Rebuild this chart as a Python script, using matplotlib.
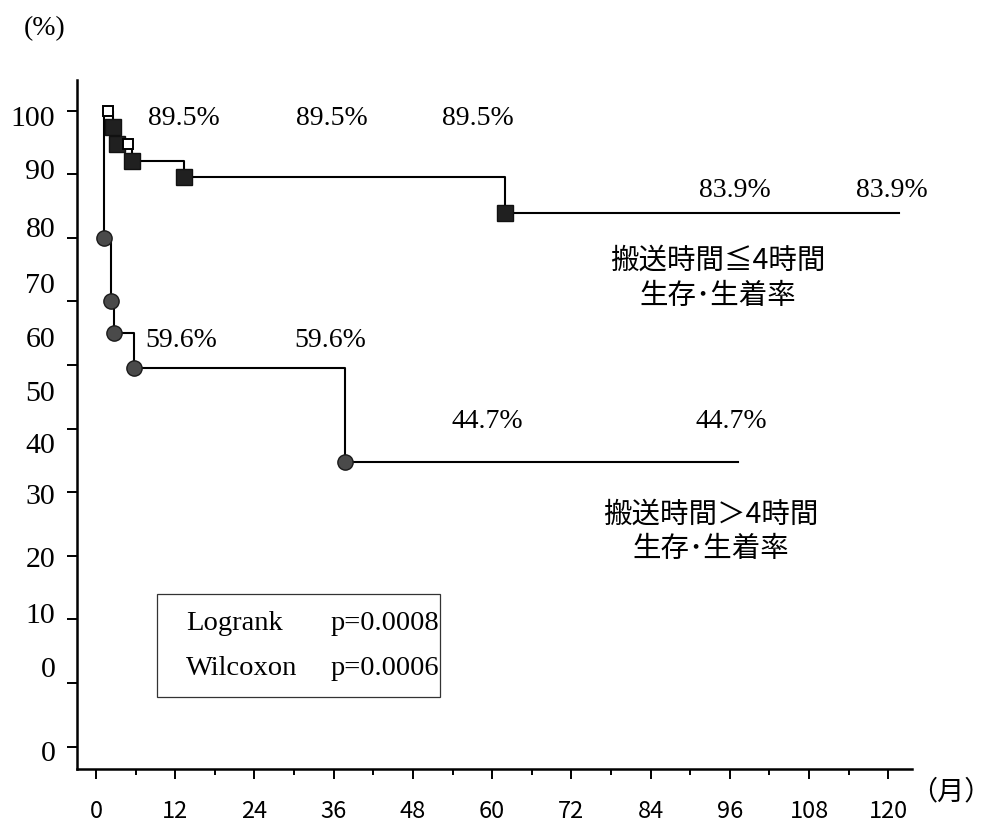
import numpy as np
import matplotlib
matplotlib.use("Agg")
import matplotlib.pyplot as plt
from matplotlib.patches import Rectangle

# ---- data -------------------------------------------------------------
month_ticks = [0, 12, 24, 36, 48, 60, 72, 84, 96, 108, 120]
month_minor = [6, 18, 30, 42, 54, 66, 78, 90, 102, 114]
y_ticks = [0, 10, 20, 30, 40, 50, 60, 70, 80, 90, 100]
y_tick_labels = ["100", "90", "80", "70", "60", "50", "40", "30", "20", "10", "0", "0"]

# transport time <= 4 h
short_start = 1.2
short_times = [2.6, 3.2, 5.5, 13.3, 61.9]
short_surv = [97.4, 94.7, 92.1, 89.5, 83.9]
short_censor_t = [1.8, 4.9]
short_censor_s = [100.0, 94.7]
short_end = 121.7

# transport time > 4 h
long_start = 1.2
long_times = [1.2, 2.2, 2.8, 5.7, 37.7]
long_surv = [80.0, 70.0, 65.0, 59.6, 44.7]
long_end = 97.3

short_label = ["搬送時間≦4時間", "生存･生着率"]
long_label = ["搬送時間＞4時間", "生存･生着率"]
test_names = ["Logrank", "Wilcoxon"]
test_pvals = ["p=0.0008", "p=0.0006"]

# ---- layout -----------------------------------------------------------
W, H = 993, 831
fig = plt.figure(figsize=(W / 100, H / 100), dpi=100)
ax_l, ax_r, ax_b, ax_t = 77, 912, 769, 80
ax = fig.add_axes([ax_l / W, 1 - ax_b / H, (ax_r - ax_l) / W, (ax_b - ax_t) / H])
ax.set_xlim(-2.88, 123.6)
ax.set_ylim(-3.5, 104.8)

for s in ("top", "right"):
    ax.spines[s].set_visible(False)
for s in ("left", "bottom"):
    ax.spines[s].set_linewidth(1.8)

serif = "Liberation Serif"
gothic = ["Noto Sans CJK JP", "DejaVu Sans"]

ax.set_yticks(y_ticks)
ax.set_yticklabels([])
ax.tick_params(axis="y", direction="out", length=7.5, width=1.4)
ax.set_xticks(month_ticks)
ax.set_xticks(month_minor, minor=True)
ax.set_xticklabels([str(m) for m in month_ticks], fontfamily=gothic, fontsize=17)
ax.tick_params(axis="x", which="major", direction="out", length=7.5, width=1.4, pad=15)
ax.tick_params(axis="x", which="minor", direction="out", length=4.5, width=1.4)

# y labels drawn individually (their own vertical placement)
y_label_pos = [97.5, 89.2, 80.1, 71.3, 62.8, 54.4, 46.1, 38.2, 28.2, 19.5, 10.9, -2.2]
for lab, yp in zip(y_tick_labels, y_label_pos):
    ax.text(-0.026, yp, lab, transform=ax.get_yaxis_transform(), ha="right",
            va="baseline", fontfamily=serif, fontsize=21.5, clip_on=False)

# ---- survival curves --------------------------------------------------
def step_xy(start, times, surv, end):
    x = [start] + list(times) + [end]
    y = [100.0] + list(surv) + [surv[-1]]
    return x, y

xs, ys = step_xy(short_start, short_times, short_surv, short_end)
ax.step(xs, ys, where="post", color="black", lw=1.5, zorder=2)
xl, yl = step_xy(long_start, long_times, long_surv, long_end)
ax.step(xl, yl, where="post", color="black", lw=1.5, zorder=2)

ax.plot(short_times, short_surv, ls="none", marker="s", ms=12, mfc="#202020",
        mec="#111111", mew=1, zorder=3)
ax.plot(short_censor_t, short_censor_s, ls="none", marker="s", ms=6.5, mfc="white",
        mec="black", mew=1.4, zorder=4)
ax.plot(long_times, long_surv, ls="none", marker="o", ms=11, mfc="#4a4a4a",
        mec="#1a1a1a", mew=1, zorder=3)

# ---- value annotations ------------------------------------------------
pct_font = dict(fontfamily=serif, fontsize=20, ha="center", va="baseline")
v = short_surv[3]
for xp in (13.3, 35.8, 57.9):
    ax.text(xp, 97.75, f"{v:.1f}%", **pct_font)
v = short_surv[4]
for xp in (96.7, 120.6):
    ax.text(xp, 86.4, f"{v:.1f}%", clip_on=False, **pct_font)
v = long_surv[3]
for xp in (12.9, 35.5):
    ax.text(xp, 62.8, f"{v:.1f}%", **pct_font)
v = long_surv[4]
for xp in (59.2, 96.2):
    ax.text(xp, 50.1, f"{v:.1f}%", **pct_font)

cjk_font = dict(fontfamily=gothic, fontsize=20.5, ha="center", va="center")
ax.text(94.2, 76.4, short_label[0], **cjk_font)
ax.text(94.2, 70.9, short_label[1], **cjk_font)
ax.text(93.2, 36.4, long_label[0], **cjk_font)
ax.text(93.2, 31.1, long_label[1], **cjk_font)

# ---- test statistics box ---------------------------------------------
ax.add_patch(Rectangle((9.24, 7.8), 52.1 - 9.24, 24.0 - 7.8, fill=False,
                       edgecolor="#333333", lw=0.9, zorder=1))
for name, pv, yb in zip(test_names, test_pvals, (18.3, 11.3)):
    ax.text(13.6, yb, name, fontfamily=serif, fontsize=20.5, ha="left", va="baseline")
    ax.text(35.5, yb, pv, fontfamily=serif, fontsize=20.5, ha="left", va="baseline")

# ---- axis units -------------------------------------------------------
fig.text(45 / W, 1 - 29 / H, "(%)", fontfamily=serif, fontsize=20, ha="center", va="center")
fig.text(951 / W, 1 - 792 / H, "（月）", fontfamily=gothic, fontsize=19.5, ha="center", va="center")

fig.savefig("out.png", dpi=100)
